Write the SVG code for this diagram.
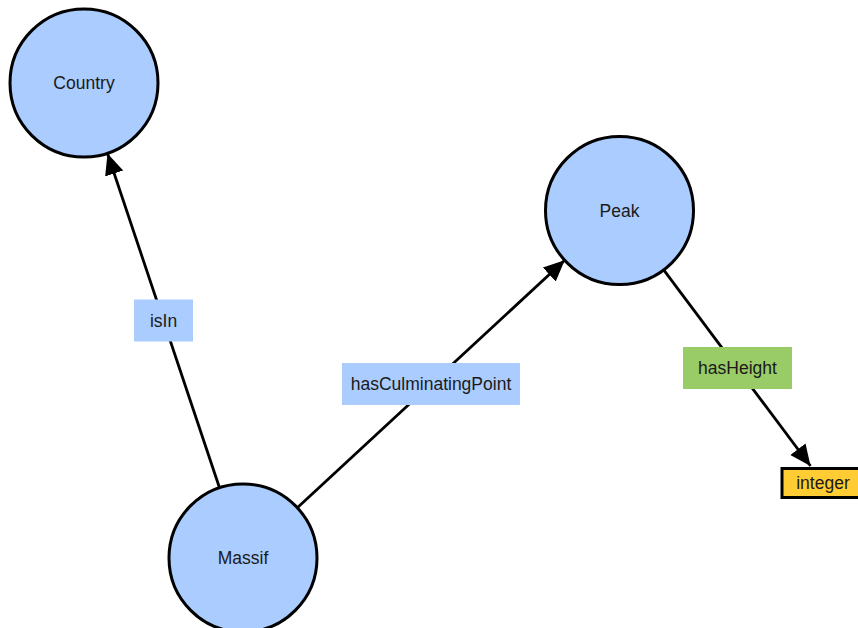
<svg xmlns="http://www.w3.org/2000/svg" width="858" height="628" viewBox="0 0 858 628">
<style>
.cls circle{fill:#aaccff;stroke:#000;stroke-width:3}
text{font-family:"Liberation Sans",Arial,sans-serif;font-size:17.5px;fill:#1a1a1a;text-anchor:middle}
.edge{stroke:#000;stroke-width:2.8;fill:none;marker-end:url(#arr)}
.lbl-obj{fill:#aaccff}
.lbl-dt{fill:#99cc66}
.dtype rect{fill:#ffcc33;stroke:#000;stroke-width:3}
</style>
<defs>
<marker id="arr" markerUnits="userSpaceOnUse" markerWidth="24" markerHeight="24" viewBox="0 0 24 24" refX="21" refY="12" orient="auto">
<path d="M0,2.5 L21,12 L0,21.5 Z" fill="#000"/>
</marker>
</defs>
<rect width="858" height="628" fill="#fff"/>
<g id="connectors">
<line class="edge" x1="219.5" y1="487.8" x2="107.5" y2="153.5"/>
<line class="edge" x1="297.3" y1="507.7" x2="564.7" y2="260.3"/>
<line class="edge" x1="663.3" y1="269.3" x2="810.5" y2="466"/>
</g>
<g id="node-country" class="cls"><circle cx="84" cy="83" r="74"/><text x="84" y="83" dy="0.35em">Country</text></g>
<g id="node-peak" class="cls"><circle cx="619.5" cy="210.5" r="74"/><text x="619.5" y="210.5" dy="0.35em">Peak</text></g>
<g id="node-massif" class="cls"><circle cx="243" cy="558" r="74"/><text x="243" y="558" dy="0.35em">Massif</text></g>
<g id="node-integer" class="dtype"><rect x="782" y="468.5" width="83" height="29"/><text x="823" y="483" dy="0.35em">integer</text></g>
<g id="label-isIn"><rect class="lbl-obj" x="134" y="299.5" width="59" height="42"/><text x="163.5" y="320.5" dy="0.35em">isIn</text></g>
<g id="label-hasCulminatingPoint"><rect class="lbl-obj" x="342" y="363" width="178" height="42"/><text x="431" y="384" dy="0.35em">hasCulminatingPoint</text></g>
<g id="label-hasHeight"><rect class="lbl-dt" x="683" y="347" width="109" height="42"/><text x="737.5" y="368" dy="0.35em">hasHeight</text></g>
</svg>
